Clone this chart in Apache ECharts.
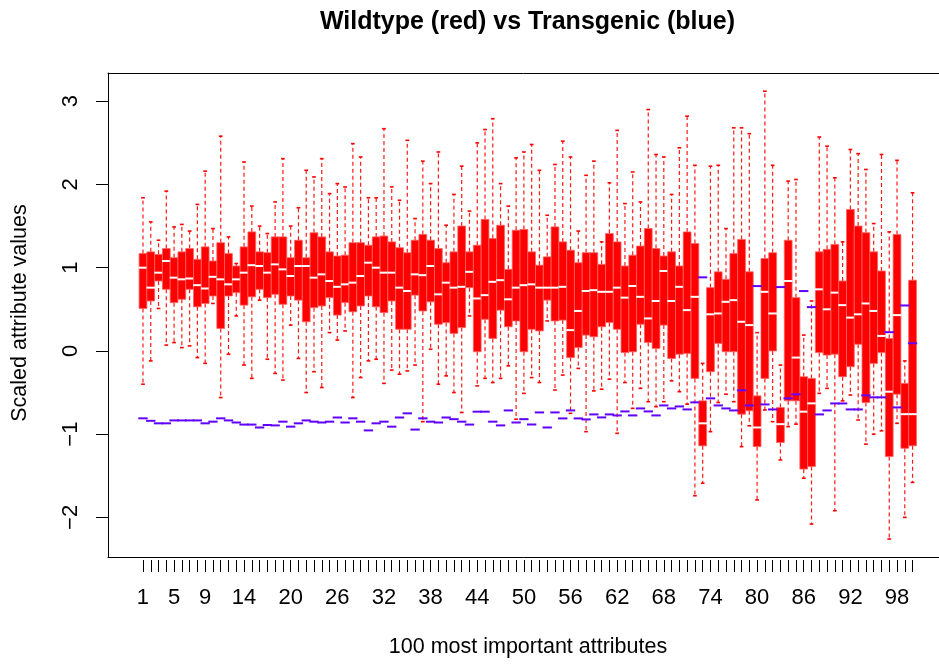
<!DOCTYPE html>
<html><head><meta charset="utf-8">
<script src="https://cdn.jsdelivr.net/npm/echarts@6/dist/echarts.min.js"></script>
<style>html,body{margin:0;padding:0;background:#fff}#c{width:939px;height:664px}</style>
</head><body><div id="c"></div>
<script>
// ---- data ----
const attributes = Array.from({length:100}, (_, i) => i + 1);
const xTickLabels = [1,5,9,14,20,26,32,38,44,50,56,62,68,74,80,86,92,98];
const yTickLabels = [-2,-1,0,1,2,3];

// Wildtype (red) boxplot statistics
const wtHigh = [1.84,1.55,1.33,1.92,1.49,1.52,1.44,1.76,2.16,1.47,2.58,1.37,1.05,2.27,1.74,1.50,1.41,1.79,2.31,1.50,1.72,2.17,2.09,2.31,1.89,
2.01,1.97,2.49,2.33,1.84,1.84,2.67,1.97,1.81,2.53,1.59,2.28,2.01,2.39,1.51,1.88,2.22,1.68,2.50,2.66,2.79,2.01,1.74,2.32,2.39,
2.48,2.17,1.63,2.24,2.52,2.33,1.44,2.11,2.28,1.31,2.02,2.65,1.77,2.15,1.79,2.90,2.36,2.33,1.88,2.44,2.82,2.23,-0.15,2.22,2.23,
1.47,2.68,2.68,2.61,0.22,3.12,2.23,-0.17,2.04,2.06,0.19,0.60,2.57,2.46,2.08,1.31,2.42,2.37,2.18,1.53,2.36,1.43,2.29,-0.12,1.90];
const wtQ3 = [1.17,1.19,1.16,1.23,1.12,1.19,1.23,1.10,1.25,1.08,1.30,1.17,1.02,1.25,1.43,1.19,1.18,1.37,1.37,1.12,1.33,1.12,1.42,1.37,1.19,
1.14,1.15,1.30,1.30,1.27,1.37,1.38,1.31,1.24,1.18,1.33,1.40,1.33,1.23,1.06,1.19,1.50,1.19,1.27,1.58,1.35,1.51,0.98,1.45,1.46,
1.19,1.03,1.13,1.49,1.31,1.21,1.06,1.18,1.18,1.04,1.41,1.31,1.02,1.15,1.26,1.47,1.23,1.14,1.19,1.02,1.43,1.29,-0.60,0.76,0.95,
0.86,1.17,1.34,0.95,-0.54,1.11,1.18,-0.68,1.33,0.64,-0.31,-0.33,1.19,1.22,1.28,0.84,1.70,1.50,1.42,1.19,0.96,0.15,1.40,-0.39,0.85];
const wtMed = [1.00,0.76,0.94,1.08,0.88,0.86,0.87,0.79,0.75,0.89,0.86,0.80,0.86,0.94,1.03,1.02,0.94,1.04,0.98,0.90,1.02,1.02,0.88,0.92,0.84,
0.77,0.80,0.82,0.90,1.06,1.00,0.94,0.94,0.76,0.72,0.92,0.91,1.02,0.68,0.82,0.76,0.77,0.95,0.63,0.67,0.83,0.85,0.62,0.76,0.79,
0.80,0.76,0.76,0.76,0.77,0.25,0.48,0.72,0.73,0.71,0.71,0.76,0.64,0.78,0.65,0.39,0.60,0.96,0.60,0.77,0.49,0.65,-0.87,0.44,0.45,
0.59,0.61,0.35,0.31,-0.92,0.71,0.45,-0.88,0.84,-0.08,-0.73,-0.63,0.74,0.50,0.70,0.55,0.40,0.44,0.57,0.48,0.18,-0.49,0.43,-0.76,-0.76];
const wtQ1 = [0.51,0.60,0.84,0.74,0.58,0.62,0.74,0.53,0.57,0.66,0.27,0.66,0.70,0.55,0.65,0.74,0.64,0.68,0.56,0.66,0.61,0.35,0.52,0.54,0.64,
0.43,0.58,0.47,0.54,0.66,0.53,0.46,0.60,0.26,0.26,0.67,0.48,0.59,0.32,0.34,0.21,0.28,0.76,-0.01,0.38,0.15,0.49,0.29,0.36,-0.01,
0.26,0.24,0.61,0.36,0.37,-0.08,0.04,0.19,0.17,0.29,0.34,0.26,-0.02,-0.01,0.32,0.10,0.03,0.31,-0.09,-0.04,-0.03,-0.33,-1.14,-0.25,0.09,
-0.01,-0.01,-0.76,-0.72,-1.15,-0.33,0.00,-1.10,-0.60,-0.60,-1.42,-1.39,-0.02,-0.05,-0.04,-0.31,-0.19,0.08,-0.62,-0.15,-0.02,-1.27,-0.52,-1.17,-1.14];
const wtLow = [-0.40,-0.12,0.51,0.07,0.10,0.04,0.06,-0.08,-0.15,0.57,-0.56,-0.04,0.42,-0.17,-0.33,0.61,-0.10,-0.27,-0.35,0.31,-0.09,-0.50,-0.25,-0.44,0.22,
0.13,0.24,-0.56,-0.32,-0.12,-0.10,-0.39,-0.23,-0.28,-0.24,-0.17,-0.85,0.02,-0.40,-0.30,-0.50,-0.74,0.42,-0.42,-0.33,-0.38,-0.33,-0.18,-0.82,-0.51,
-0.32,-0.38,0.36,-0.47,-0.29,-0.75,-0.21,-0.97,-0.48,-0.46,-0.34,-0.99,-0.38,-0.69,-0.45,-0.61,-0.67,-0.61,-0.36,-0.49,-0.64,-1.74,-1.59,-0.97,-0.62,
-0.52,-0.61,-1.15,-0.90,-1.79,-0.71,-0.85,-1.31,-0.91,-0.88,-1.53,-2.08,-0.51,-0.45,-1.92,-0.60,-0.53,-0.83,-1.12,-1.00,-0.96,-2.26,-0.87,-2.00,-1.58];

// Transgenic (blue): boxes collapse to a single level
const tgMed = [-0.81,-0.84,-0.87,-0.87,-0.835,-0.835,-0.835,-0.835,-0.87,-0.85,-0.81,-0.835,-0.86,-0.885,-0.885,-0.92,-0.89,-0.895,-0.85,-0.91,-0.87,-0.835,-0.85,-0.86,-0.85,
-0.80,-0.86,-0.81,-0.85,-0.955,-0.87,-0.85,-0.91,-0.80,-0.75,-0.945,-0.81,-0.85,-0.86,-0.80,-0.82,-0.85,-0.885,-0.73,-0.73,-0.85,-0.895,-0.715,-0.86,-0.82,
-0.884,-0.739,-0.92,-0.739,-0.811,-0.715,-0.811,-0.823,-0.763,-0.799,-0.763,-0.775,-0.727,-0.775,-0.691,-0.727,-0.775,-0.655,-0.691,-0.667,-0.703,-0.618,0.884,-0.57,-0.655,
-0.691,-0.715,-0.474,-0.655,0.779,-0.643,-0.703,0.767,-0.57,-0.522,0.719,0.526,-0.763,-0.715,-0.631,-0.631,-0.703,-0.703,-0.534,-0.558,-0.558,0.225,-0.679,0.546,0.092];

// ---- chart ----
const FONT = '"Liberation Sans", Arial, Helvetica, sans-serif';
const X_MIN = -3.5, X_MAX = 103.4;   // plot region continues past the right edge of the picture
const Y_MIN = -2.476, Y_MAX = 3.339;
const chart = echarts.init(document.getElementById('c'), null, {renderer: 'canvas'});
const redData = attributes.map((a, i) => [a, wtLow[i], wtQ1[i], wtMed[i], wtQ3[i], wtHigh[i]]);
const blueData = attributes.map((a, i) => [a, tgMed[i]]);

function renderRed(params, api) {
  const x = api.value(0);
  const pLo = api.coord([x, api.value(1)]);
  const pQ1 = api.coord([x, api.value(2)]);
  const pMd = api.coord([x, api.value(3)]);
  const pQ3 = api.coord([x, api.value(4)]);
  const pHi = api.coord([x, api.value(5)]);
  const w = api.size([1, 0])[0];
  const cx = pMd[0];
  const bw = w * 0.5, sw = w * 0.24;
  const dash = {stroke: '#ff1a1a', lineWidth: 1.2, lineDash: [4, 3]};
  const solid = {stroke: '#ff0000', lineWidth: 1.6};
  return {type: 'group', children: [
    {type: 'line', shape: {x1: cx, y1: pQ3[1], x2: cx, y2: pHi[1]}, style: dash},
    {type: 'line', shape: {x1: cx, y1: pQ1[1], x2: cx, y2: pLo[1]}, style: dash},
    {type: 'line', shape: {x1: cx - sw, y1: pHi[1], x2: cx + sw, y2: pHi[1]}, style: solid},
    {type: 'line', shape: {x1: cx - sw, y1: pLo[1], x2: cx + sw, y2: pLo[1]}, style: solid},
    {type: 'rect', shape: {x: cx - bw, y: pQ3[1], width: 2 * bw, height: pQ1[1] - pQ3[1]},
      style: {fill: '#ff0000', stroke: '#ff6262', lineWidth: 0.8}},
    {type: 'line', shape: {x1: cx - bw * 1.1, y1: pMd[1], x2: cx + bw * 1.1, y2: pMd[1]},
      style: {stroke: '#ffffff', lineWidth: 2}}
  ]};
}
function renderBlue(params, api) {
  const x = api.value(0);
  const p = api.coord([x, api.value(1)]);
  const w = api.size([1, 0])[0];
  return {type: 'line', shape: {x1: p[0] - w * 0.6, y1: p[1], x2: p[0] + w * 0.6, y2: p[1]},
    style: {stroke: '#6000ff', lineWidth: 2}};
}

const frameAxis = {type: 'value', min: X_MIN, max: X_MAX, axisLine: {show: true, onZero: false, lineStyle: {color: '#000', width: 1}},
  axisTick: {show: false}, axisLabel: {show: false}, splitLine: {show: false}};

chart.setOption({
  animation: false,
  backgroundColor: '#ffffff',
  grid: {left: 108, top: 73, right: 0, height: 484},
  xAxis: [
    Object.assign({}, frameAxis, {position: 'bottom'}),
    {
      type: 'value', min: X_MIN, max: X_MAX, position: 'bottom', offset: 3,
      axisLine: {show: false, onZero: false}, splitLine: {show: false},
      axisTick: {show: true, customValues: attributes, length: 12, lineStyle: {color: '#000', width: 1}},
      axisLabel: {customValues: xTickLabels, color: '#000', fontSize: 22, fontFamily: FONT, margin: 27}
    },
    Object.assign({}, frameAxis, {position: 'top'})
  ],
  yAxis: {
    type: 'value', min: Y_MIN, max: Y_MAX,
    axisLine: {show: true, onZero: false, lineStyle: {color: '#000', width: 1}}, splitLine: {show: false},
    axisTick: {show: true, customValues: yTickLabels, length: 12, lineStyle: {color: '#000', width: 1}},
    axisLabel: {customValues: yTickLabels, rotate: 90, color: '#000', fontSize: 22, fontFamily: FONT, margin: 26,
      formatter: v => (v < 0 ? '\u2212' + Math.abs(v) : String(v))}
  },
  graphic: [
    {type: 'text', x: 527.5, y: 22, style: {text: 'Wildtype (red) vs Transgenic (blue)', font: 'bold 25px ' + FONT, fill: '#000', align: 'center', verticalAlign: 'middle'}, z: 10},
    {type: 'text', x: 528, y: 647, style: {text: '100 most important attributes', font: '21.5px ' + FONT, fill: '#000', align: 'center', verticalAlign: 'middle'}},
    {type: 'text', x: 20, y: 313, rotation: Math.PI / 2, style: {text: 'Scaled attribute values', font: '21.5px ' + FONT, fill: '#000', align: 'center', verticalAlign: 'middle'}}
  ],
  series: [
    {type: 'custom', name: 'Wildtype', renderItem: renderRed, data: redData, xAxisIndex: 0, encode: {x: 0, y: [1, 5]}, clip: true, z: 2},
    {type: 'custom', name: 'Transgenic', renderItem: renderBlue, data: blueData, xAxisIndex: 0, encode: {x: 0, y: 1}, clip: true, z: 3}
  ]
});
</script>
</body></html>
